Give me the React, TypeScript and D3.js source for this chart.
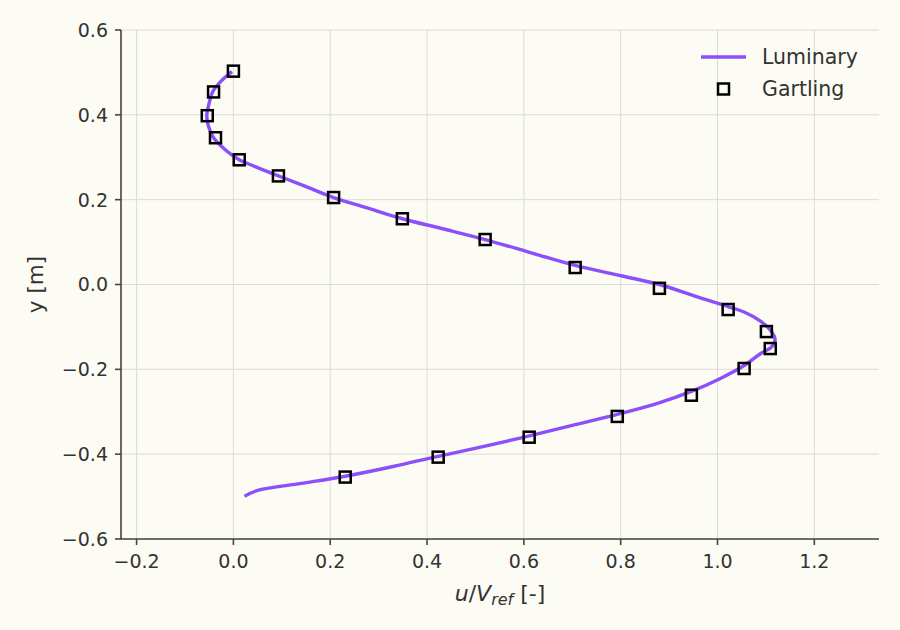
import * as d3 from "d3";

// Luminary profile (u/Vref, y), traced bottom to top
const lumU = [0.023, 0.052, 0.14, 0.231, 0.33, 0.423, 0.52, 0.611, 0.70, 0.793, 0.876, 0.946, 1.005, 1.055, 1.09, 1.112, 1.119, 1.108, 1.088, 1.055, 1.022, 0.96, 0.88, 0.803, 0.706, 0.62, 0.52, 0.43, 0.349, 0.275, 0.207, 0.145, 0.093, 0.045, 0.012, -0.015, -0.041, -0.052, -0.055, -0.05, -0.043, -0.025, -0.003];
const lumY = [-0.499, -0.485, -0.469, -0.452, -0.429, -0.405, -0.381, -0.357, -0.332, -0.306, -0.28, -0.252, -0.222, -0.191, -0.162, -0.147, -0.129, -0.106, -0.086, -0.065, -0.052, -0.03, 0.0, 0.02, 0.045, 0.073, 0.106, 0.132, 0.155, 0.181, 0.205, 0.233, 0.256, 0.278, 0.294, 0.316, 0.346, 0.375, 0.398, 0.428, 0.454, 0.48, 0.502];

// Gartling reference points
const garU = [0.0, -0.041, -0.054, -0.037, 0.012, 0.093, 0.207, 0.349, 0.520, 0.706, 0.880, 1.022, 1.101, 1.109, 1.055, 0.946, 0.793, 0.611, 0.423, 0.231];
const garY = [0.503, 0.454, 0.398, 0.346, 0.294, 0.256, 0.205, 0.155, 0.106, 0.040, -0.009, -0.059, -0.111, -0.151, -0.198, -0.261, -0.311, -0.360, -0.407, -0.454];

const xTicks = [-0.2, 0.0, 0.2, 0.4, 0.6, 0.8, 1.0, 1.2];
const yTicks = [-0.6, -0.4, -0.2, 0.0, 0.2, 0.4, 0.6];

const width = 900;
const height = 630;
const margin = { top: 30, right: 21, bottom: 91, left: 121 };
const font = "'DejaVu Sans', sans-serif";
const ink = "#333333";
const purple = "#8c4ffa";

const App = () => {
  const innerWidth = width - margin.left - margin.right;
  const innerHeight = height - margin.top - margin.bottom;

  const xScale = d3.scaleLinear().domain([-0.2322, 1.3336]).range([0, innerWidth]);
  const yScale = d3.scaleLinear().domain([-0.6, 0.6]).range([innerHeight, 0]);

  const lumData = lumU.map((u, i) => [u, lumY[i]] as [number, number]);
  const linePath = d3.line<[number, number]>()
    .x(d => xScale(d[0]))
    .y(d => yScale(d[1]))
    .curve(d3.curveCatmullRom.alpha(0.5))(lumData);

  const fmt = (v: number) => d3.format(".1f")(v).replace("-", "\u2212");
  const sq = 11;

  return (
    <div style={{ position: "absolute", left: 0, top: 0 }}>
      <svg width={width} height={height} style={{ display: "block", fontFamily: font }}>
        <rect width={width} height={height} fill="#fcfbf4" />
        <g transform={`translate(${margin.left}, ${margin.top})`}>
          {xTicks.map(t => (
            <line key={`gx${t}`} x1={xScale(t)} x2={xScale(t)} y1={0} y2={innerHeight} stroke="#dcdcd6" strokeWidth={1} />
          ))}
          {yTicks.map(t => (
            <line key={`gy${t}`} x1={0} x2={innerWidth} y1={yScale(t)} y2={yScale(t)} stroke="#dcdcd6" strokeWidth={1} />
          ))}

          <path d={linePath ?? ""} fill="none" stroke={purple} strokeWidth={3.4} strokeLinejoin="round" strokeLinecap="butt" />

          {garU.map((u, i) => (
            <rect
              key={`g${i}`}
              x={xScale(u) - sq / 2}
              y={yScale(garY[i]) - sq / 2}
              width={sq}
              height={sq}
              fill="none"
              stroke="#000"
              strokeWidth={2.5}
            />
          ))}

          {/* spines */}
          <line x1={0} x2={0} y1={0} y2={innerHeight} stroke="#444" strokeWidth={1.6} />
          <line x1={0} x2={innerWidth} y1={innerHeight} y2={innerHeight} stroke="#444" strokeWidth={1.6} />

          {xTicks.map(t => (
            <g key={`tx${t}`} transform={`translate(${xScale(t)}, ${innerHeight})`}>
              <line y1={0} y2={6} stroke="#444" strokeWidth={1.6} />
              <text y={29} textAnchor="middle" fontSize={19} fill={ink}>{fmt(t)}</text>
            </g>
          ))}
          {yTicks.map(t => (
            <g key={`ty${t}`} transform={`translate(0, ${yScale(t)})`}>
              <line x1={-6} x2={0} stroke="#444" strokeWidth={1.6} />
              <text x={-13} dy="0.36em" textAnchor="end" fontSize={19} fill={ink}>{fmt(t)}</text>
            </g>
          ))}

          {/* legend */}
          <g transform={`translate(${innerWidth - 178}, 27)`}>
            <line x1={0} x2={45} y1={0} y2={0} stroke={purple} strokeWidth={3.4} />
            <text x={61} dy="0.36em" fontSize={20.5} fill={ink}>Luminary</text>
            <rect x={22.5 - sq / 2} y={32 - sq / 2} width={sq} height={sq} fill="none" stroke="#000" strokeWidth={2.5} />
            <text x={61} y={32} dy="0.36em" fontSize={20.5} fill={ink}>Gartling</text>
          </g>
        </g>

        {/* axis labels */}
        <text x={margin.left + innerWidth / 2} y={601} textAnchor="middle" fontSize={22} fill={ink}>
          <tspan fontStyle="italic">u</tspan>
          <tspan>/</tspan>
          <tspan fontStyle="italic">V</tspan>
          <tspan fontStyle="italic" fontSize={16} dy={4}>ref</tspan>
          <tspan dy={-4}> [-]</tspan>
        </text>
        <text transform={`translate(43, ${margin.top + innerHeight / 2}) rotate(-90)`} textAnchor="middle" fontSize={21.5} fill={ink}>
          y [m]
        </text>
      </svg>
    </div>
  );
};

export default App;
